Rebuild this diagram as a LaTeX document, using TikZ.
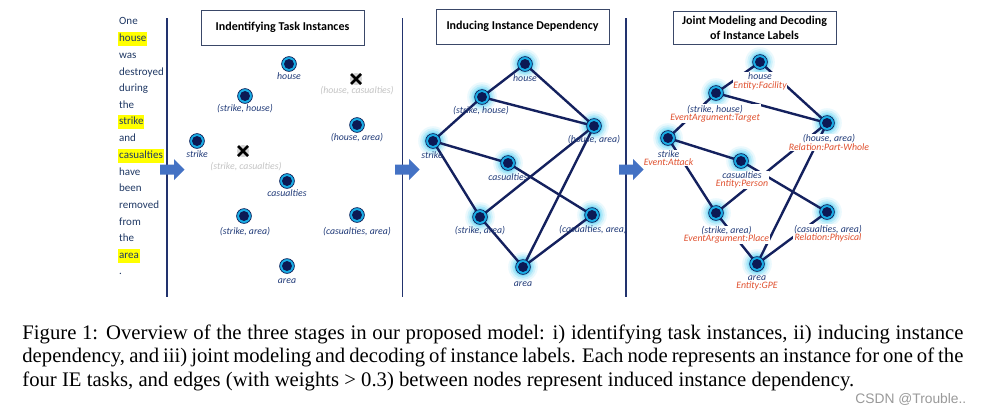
\documentclass[tikz,border=0pt]{standalone}
\usepackage{fontspec}
\setmainfont{Liberation Serif}
\newfontfamily\calfont{Carlito}
\newfontfamily\wmfont{Liberation Sans}
\definecolor{navy}{HTML}{0C1A55}
\definecolor{ringcyan}{HTML}{1AAEE6}
\definecolor{edgec}{HTML}{14215E}
\definecolor{lblue}{HTML}{203A78}
\definecolor{lred}{HTML}{E0502E}
\definecolor{tblue}{HTML}{1F3864}
\definecolor{sepc}{HTML}{22336E}
\definecolor{arrowc}{HTML}{4472C4}
\definecolor{glowc}{HTML}{3FCDF5}
\definecolor{boxc}{HTML}{3A4868}
\definecolor{hl}{HTML}{FFFF00}
\definecolor{grayl}{HTML}{C4C4C4}
\tikzset{
  word/.style={anchor=west, inner xsep=0.4pt, inner ysep=0.9pt, text=tblue, font=\calfont\fontsize{5.5}{6}\selectfont, text height=3.9pt, text depth=1.2pt},
  hlword/.style={word, fill=hl},
  inst/.style={circle, inner sep=0pt, minimum size=7.4pt, fill=ringcyan, draw=navy, line width=0.35pt,
    path picture={\fill[navy] (path picture bounding box.center) circle (2.5pt);}},
  lbl/.style={inner sep=0.4pt, text=lblue, font=\calfont\itshape\fontsize{4.9}{4.2}\selectfont, align=center},
  wlbl/.style={lbl, fill=white},
  glbl/.style={lbl, text=grayl},
  edge/.style={draw=edgec, line width=1.2pt},
  sep/.style={draw=sepc, line width=0.9pt},
  title/.style={draw=boxc, line width=0.45pt, font=\calfont\bfseries\fontsize{6.0}{7.2}\selectfont, align=center, inner sep=0pt},
  blockarrow/.style={fill=arrowc},
  capline/.style={anchor=base west, inner sep=0pt, font=\fontsize{10.35}{12}\selectfont}
}
\newcommand\glowat[1]{%
  \fill[glowc, opacity=0.10] (#1) circle (7.4pt);
  \fill[glowc, opacity=0.16] (#1) circle (6.4pt);
  \fill[glowc, opacity=0.25] (#1) circle (5.4pt);
  \fill[glowc, opacity=0.35] (#1) circle (4.5pt);}
\newcommand\redt[1]{\textcolor{lred}{#1}}
\begin{document}
\begin{tikzpicture}[x=0.5pt, y=-0.5pt]
\useasboundingbox (0,0) rectangle (983,413);
\fill[white] (0,0) rectangle (983,413);

% left sentence
\node[word]   (w1)  at (118,22)  {One};
\node[hlword] (w2)  at (118,39)  {house};
\node[word]   (w3)  at (118,56)  {was};
\node[word]   (w4)  at (118,72.5){destroyed};
\node[word]   (w5)  at (118,89)  {during};
\node[word]   (w6)  at (118,106) {the};
\node[hlword] (w7)  at (118,122) {strike};
\node[word]   (w8)  at (118,139) {and};
\node[hlword] (w9)  at (118,156) {casualties};
\node[word]   (w10) at (118,172.5){have};
\node[word]   (w11) at (118,189) {been};
\node[word]   (w12) at (118,206) {removed};
\node[word]   (w13) at (118,222.5){from};
\node[word]   (w14) at (118,239) {the};
\node[hlword] (w15) at (118,256) {area};
\node[word]   (w16) at (118,272) {.};

% separators
\draw[sep] (167,18) -- (167,297);
\draw[sep] (402.5,18) -- (402.5,297);
\draw[sep] (626,18) -- (626,297);

% block arrows
\fill[blockarrow] (160,164.5) -- (174,164.5) -- (174,159) -- (184.5,169.5) -- (174,180) -- (174,174.5) -- (160,174.5) -- cycle;
\fill[blockarrow] (395,164.5) -- (409,164.5) -- (409,159) -- (419.5,169.5) -- (409,180) -- (409,174.5) -- (395,174.5) -- cycle;
\fill[blockarrow] (619,164.5) -- (633,164.5) -- (633,159) -- (643.5,169.5) -- (633,180) -- (633,174.5) -- (619,174.5) -- cycle;

% titles
\node[title, minimum width=81.5pt, minimum height=17.5pt] (t1) at (282.5,27.5) {Indentifying Task Instances};
\node[title, minimum width=86.5pt, minimum height=17.5pt] (t2) at (522.5,26.5) {Inducing Instance Dependency};
\node[title, minimum width=81.5pt, minimum height=16.5pt] (t3) at (754.5,27.5) {Joint Modeling and Decoding\\[0.3pt]of Instance Labels};

% ---------- panel 1 ----------
\node[inst] (a-house) at (289,64) {};
\node[lbl] (a-house-l) at (289,76.5) {house};
\node[inst] (a-sh) at (245,96) {};
\node[lbl] (a-sh-l) at (245,108.5) {(strike, house)};
\fill[grayl!70] (356,79) circle (3pt);
\draw[black, line width=1.3pt] (351,74) -- (361,84) (351,84) -- (361,74);
\coordinate (a-hc) at (356,79);
\node[glbl] (a-hc-l) at (357,90.5) {(house, casualties)};
\node[inst] (a-ha) at (357,125) {};
\node[lbl] (a-ha-l) at (357,137.5) {(house, area)};
\node[inst] (a-st) at (197,141) {};
\node[lbl] (a-st-l) at (197,154) {strike};
\fill[grayl!70] (243,151) circle (3pt);
\draw[black, line width=1.3pt] (238,146) -- (248,156) (238,156) -- (248,146);
\coordinate (a-sc) at (243,151);
\node[glbl] (a-sc-l) at (246,166.5) {(strike, casualties)};
\node[inst] (a-ca) at (287,181) {};
\node[lbl] (a-ca-l) at (287,193.5) {casualties};
\node[inst] (a-sa) at (244,216) {};
\node[lbl] (a-sa-l) at (245,232) {(strike, area)};
\node[inst] (a-caa) at (357,215) {};
\node[lbl] (a-caa-l) at (357,232) {(casualties, area)};
\node[inst] (a-ar) at (287,266) {};
\node[lbl] (a-ar-l) at (287,281.5) {area};

% ---------- panel 2 ----------
\coordinate (bp-house) at (525,64);
\coordinate (bp-sh) at (482,97);
\coordinate (bp-ha) at (594,126);
\coordinate (bp-st) at (433,141);
\coordinate (bp-ca) at (508,163);
\coordinate (bp-sa) at (480,217);
\coordinate (bp-caa) at (592,215);
\coordinate (bp-ar) at (523,267);
\foreach \p in {house,sh,ha,st,ca,sa,caa,ar}{\glowat{bp-\p}}
\draw[edge] (bp-house) -- (bp-sh);
\draw[edge] (bp-house) -- (bp-ha);
\draw[edge] (bp-sh) -- (bp-ha);
\draw[edge] (bp-sh) -- (bp-st);
\draw[edge] (bp-st) -- (bp-ca);
\draw[edge] (bp-st) -- (bp-sa);
\draw[edge] (bp-ha) -- (bp-sa);
\draw[edge] (bp-ca) -- (bp-caa);
\draw[edge] (bp-sa) -- (bp-ar);
\draw[edge] (bp-caa) -- (bp-ar);
\draw[edge] (bp-ha) -- (bp-ar);
\node[inst] (b-house) at (bp-house) {};
\node[inst] (b-sh) at (bp-sh) {};
\node[inst] (b-ha) at (bp-ha) {};
\node[inst] (b-st) at (bp-st) {};
\node[inst] (b-ca) at (bp-ca) {};
\node[inst] (b-sa) at (bp-sa) {};
\node[inst] (b-caa) at (bp-caa) {};
\node[inst] (b-ar) at (bp-ar) {};
\node[lbl] (b-house-l) at (525,78.5) {house};
\node[lbl] (b-sh-l) at (481,111) {(strike, house)};
\node[lbl] (b-ha-l) at (594,140) {(house, area)};
\node[lbl] (b-st-l) at (432,155.5) {strike};
\node[lbl] (b-ca-l) at (508,177.5) {casualties};
\node[lbl] (b-sa-l) at (480,231) {(strike, area)};
\node[lbl] (b-caa-l) at (593,230) {(casualties, area)};
\node[lbl] (b-ar-l) at (523,284) {area};

% ---------- panel 3 ----------
\coordinate (cp-house) at (760,62);
\coordinate (cp-sh) at (716,93);
\coordinate (cp-ha) at (827,123);
\coordinate (cp-st) at (668,138);
\coordinate (cp-ca) at (741,161);
\coordinate (cp-sa) at (716,213);
\coordinate (cp-caa) at (827,212);
\coordinate (cp-ar) at (757,264);
\foreach \p in {house,sh,ha,st,ca,sa,caa,ar}{\glowat{cp-\p}}
\draw[edge] (cp-house) -- (cp-sh);
\draw[edge] (cp-house) -- (cp-ha);
\draw[edge] (cp-sh) -- (cp-ha);
\draw[edge] (cp-sh) -- (cp-st);
\draw[edge] (cp-st) -- (cp-ca);
\draw[edge] (cp-st) -- (cp-sa);
\draw[edge] (cp-ha) -- (cp-sa);
\draw[edge] (cp-ca) -- (cp-caa);
\draw[edge] (cp-sa) -- (cp-ar);
\draw[edge] (cp-caa) -- (cp-ar);
\draw[edge] (cp-ha) -- (cp-ar);
\node[wlbl] (c-house-l) at (760,81.5) {house\\\redt{Entity:Facility}};
\node[wlbl] (c-sh-l) at (715,113.5) {(strike, house)\\\redt{EventArgument:Target}};
\node[wlbl] (c-ha-l) at (829,142.5) {(house, area)\\\redt{Relation:Part-Whole}};
\node[wlbl] (c-st-l) at (668.5,158) {strike\\\redt{Event:Attack}};
\node[wlbl] (c-ca-l) at (742,180) {casualties\\\redt{Entity:Person}};
\node[wlbl] (c-sa-l) at (726.5,235) {(strike, area)\\\redt{EventArgument:Place}};
\node[wlbl] (c-caa-l) at (828,233.5) {(casualties, area)\\\redt{Relation:Physical}};
\node[wlbl] (c-ar-l) at (757,283) {area\\\redt{Entity:GPE}};
\node[inst] (c-house) at (cp-house) {};
\node[inst] (c-sh) at (cp-sh) {};
\node[inst] (c-ha) at (cp-ha) {};
\node[inst] (c-st) at (cp-st) {};
\node[inst] (c-ca) at (cp-ca) {};
\node[inst] (c-sa) at (cp-sa) {};
\node[inst] (c-caa) at (cp-caa) {};
\node[inst] (c-ar) at (cp-ar) {};

% caption
\node[capline] (cap1) at (22,339)
  {\makebox[470.5pt][s]{Figure 1: Overview of the three stages in our proposed model: i) identifying task instances, ii) inducing instance}};
\node[capline] (cap2) at (22,362.5)
  {\makebox[470.5pt][s]{dependency, and iii) joint modeling and decoding of instance labels. Each node represents an instance for one of the}};
\node[capline] (cap3) at (22,386)
  {four IE tasks, and edges (with weights {>} 0.3) between nodes represent induced instance dependency.};
\node[anchor=base west, inner sep=0pt, text=black!40, font=\wmfont\fontsize{6.9}{8}\selectfont] (wm) at (855,403) {CSDN @Trouble..};
\end{tikzpicture}
\end{document}
